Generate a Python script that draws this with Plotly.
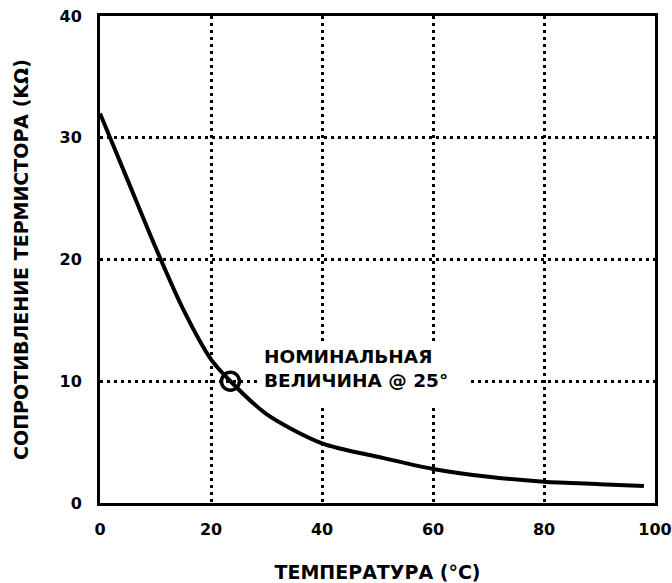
import plotly.graph_objects as go

# Thermistor resistance vs. temperature
temperature_c = [0, 5, 10, 15, 20, 23.5, 30, 40, 50, 60, 70, 80, 90, 98]
resistance_kohm = [32.0, 26.5, 21.0, 15.9, 11.8, 10.0, 7.3, 4.9, 3.8, 2.8, 2.15, 1.75, 1.55, 1.4]

# Nominal rating point
nominal_t = [23.5]
nominal_r = [10.0]

x_ticks = [0, 20, 40, 60, 80, 100]
y_ticks = [0, 10, 20, 30, 40]

FONT = "DejaVu Sans"

fig = go.Figure()

fig.add_trace(go.Scatter(
    x=temperature_c, y=resistance_kohm,
    mode="lines",
    line=dict(color="black", width=4, shape="spline", smoothing=0.8),
    hoverinfo="skip",
    showlegend=False,
))

fig.add_trace(go.Scatter(
    x=nominal_t, y=nominal_r,
    mode="markers",
    marker=dict(symbol="circle-open", size=18, color="black", line=dict(width=3.5, color="black")),
    hoverinfo="skip",
    showlegend=False,
))

# White panel behind the annotation text, masking the grid
fig.add_shape(
    type="rect", xref="x", yref="y",
    x0=28.3, x1=66.3, y0=7.8, y1=13.2,
    fillcolor="white", line=dict(width=0), layer="between",
)

fig.add_annotation(
    x=29.2, y=11.05, xref="x", yref="y",
    text="<b>НОМИНАЛЬНАЯ<br>ВЕЛИЧИНА @ 25°</b>",
    showarrow=False, xanchor="left", yanchor="middle", align="left",
    font=dict(family=FONT, size=18.5, color="black"),
)

axis_common = dict(
    showline=True, linecolor="black", linewidth=3, mirror=True,
    showgrid=True, gridcolor="black", gridwidth=3, griddash="3px,4px",
    zeroline=False, ticks="", automargin=False,
    tickfont=dict(family=FONT, size=16, color="black", weight="bold"),
    title_font=dict(family=FONT, size=19, color="black", weight="bold"),
)

fig.update_xaxes(
    range=[0, 100], tickvals=x_ticks, ticktext=[str(v) for v in x_ticks],
    title_text="ТЕМПЕРАТУРА (°C)", title_standoff=38, ticklabelstandoff=10,
    **axis_common,
)
fig.update_yaxes(
    range=[0, 40], tickvals=y_ticks, ticktext=[str(v) for v in y_ticks],
    title_text="СОПРОТИВЛЕНИЕ ТЕРМИСТОРА (KΩ)", title_standoff=26, ticklabelstandoff=12,
    **axis_common,
)

fig.update_layout(
    width=672, height=583,
    margin=dict(l=100, r=17, t=16, b=80),
    paper_bgcolor="white", plot_bgcolor="white",
    showlegend=False,
)

fig.write_html("out.html")
